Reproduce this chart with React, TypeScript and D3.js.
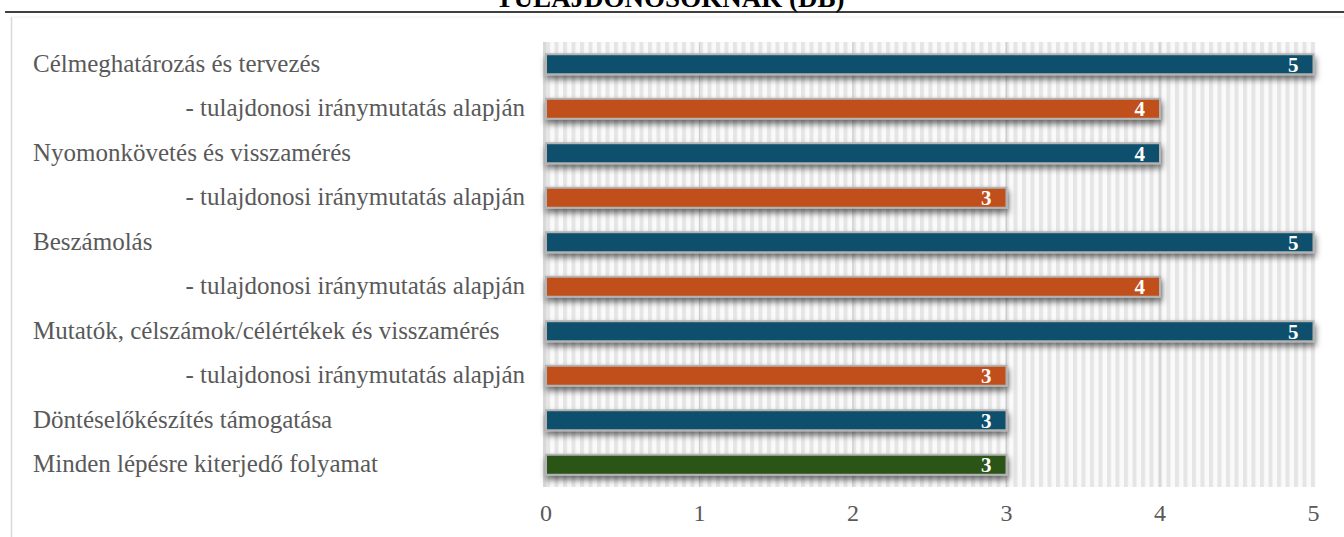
import React from "react";
import * as d3 from "d3";

// Chart content
const title = "TULAJDONOSOKNAK (DB)";
const categories = [
  "Célmeghatározás és tervezés",
  "- tulajdonosi iránymutatás alapján",
  "Nyomonkövetés és visszamérés",
  "- tulajdonosi iránymutatás alapján",
  "Beszámolás",
  "- tulajdonosi iránymutatás alapján",
  "Mutatók, célszámok/célértékek és visszamérés",
  "- tulajdonosi iránymutatás alapján",
  "Döntéselőkészítés támogatása",
  "Minden lépésre kiterjedő folyamat",
];
const values = [5, 4, 4, 3, 5, 4, 5, 3, 3, 3];
// row kind: main step, owner-guided sub-step, cross-cutting process
const kinds = ["main", "sub", "main", "sub", "main", "sub", "main", "sub", "main", "all"];
const xTicks = [0, 1, 2, 3, 4, 5];

const W = 1344;
const H = 537;
const plot = { left: 546, right: 1313.5, top: 42, bottom: 487 };
const colors: Record<string, string> = {
  main: "#0B4F6C",
  sub: "#C0501A",
  all: "#2B5419",
};
const labelFont = "'Liberation Serif', 'Times New Roman', serif";

export default function App() {
  const x = d3.scaleLinear().domain([0, 5]).range([plot.left, plot.right]);
  const y = d3
    .scaleBand<number>()
    .domain(d3.range(categories.length))
    .range([plot.top, plot.bottom])
    .paddingInner(0.55)
    .paddingOuter(0.275);

  return (
    <div style={{ position: "fixed", left: 0, top: 0 }}>
      <svg width={W} height={H} viewBox={`0 0 ${W} ${H}`} style={{ display: "block", background: "#ffffff" }}>
        <defs>
          <pattern id="stripes" patternUnits="userSpaceOnUse" x={plot.left} y={0} width={8.5} height={10}>
            <rect width={8.5} height={10} fill="#fafafa" />
            <rect x={0} width={4} height={10} fill="#e5e5e5" />
          </pattern>
          <filter id="barShadow" x="-5%" y="-60%" width="110%" height="280%">
            <feDropShadow dx={1} dy={4} stdDeviation={3} floodColor="#000000" floodOpacity={0.58} />
          </filter>
        </defs>

        {/* title, cut by the top edge, with its rule */}
        <text
          x={670}
          y={7}
          textAnchor="middle"
          fontFamily={labelFont}
          fontWeight="bold"
          fontSize={27}
          fill="#000000"
        >
          {title}
        </text>
        <line x1={5} x2={W} y1={12} y2={12} stroke="#000000" strokeWidth={1.6} />

        {/* chart frame */}
        <line x1={11.5} x2={11.5} y1={17} y2={H} stroke="#d9d9d9" strokeWidth={1.5} />
        <line x1={11.5} x2={W} y1={17} y2={17} stroke="#f0f0f0" strokeWidth={1} />

        {/* striped plot background */}
        <rect
          x={plot.left - 3}
          y={plot.top}
          width={plot.right - plot.left + 5}
          height={plot.bottom - plot.top}
          fill="url(#stripes)"
        />
        {xTicks.slice(1, -1).map((t) => (
          <line key={t} x1={x(t)} x2={x(t)} y1={plot.top} y2={plot.bottom} stroke="#cdcdcd" strokeWidth={1.2} />
        ))}
        <line x1={plot.left - 1.5} x2={plot.left - 1.5} y1={plot.top} y2={plot.bottom} stroke="#d8d8d8" strokeWidth={3} />

        {/* bars */}
        {values.map((v, i) => (
          <rect
            key={i}
            x={x(0)}
            y={y(i)}
            width={x(v) - x(0)}
            height={y.bandwidth()}
            fill={colors[kinds[i]]}
            stroke="#b3b3b3"
            strokeWidth={2}
            filter="url(#barShadow)"
          />
        ))}

        {/* value labels */}
        {values.map((v, i) => (
          <text
            key={i}
            x={x(v) - 15}
            y={(y(i) ?? 0) + y.bandwidth() / 2}
            dy="0.36em"
            textAnchor="end"
            fontFamily={labelFont}
            fontWeight="bold"
            fontSize={21}
            fill="#ffffff"
          >
            {v}
          </text>
        ))}

        {/* category labels */}
        {categories.map((c, i) => (
          <text
            key={i}
            x={kinds[i] === "sub" ? 525 : 33}
            y={(y(i) ?? 0) + y.bandwidth() / 2}
            dy="0.3em"
            textAnchor={kinds[i] === "sub" ? "end" : "start"}
            fontFamily={labelFont}
            fontSize={25}
            fill="#595959"
          >
            {c}
          </text>
        ))}

        {/* x axis tick labels */}
        {xTicks.map((t) => (
          <text
            key={t}
            x={x(t)}
            y={521}
            textAnchor="middle"
            fontFamily={labelFont}
            fontSize={24}
            fill="#595959"
          >
            {t}
          </text>
        ))}
      </svg>
    </div>
  );
}
